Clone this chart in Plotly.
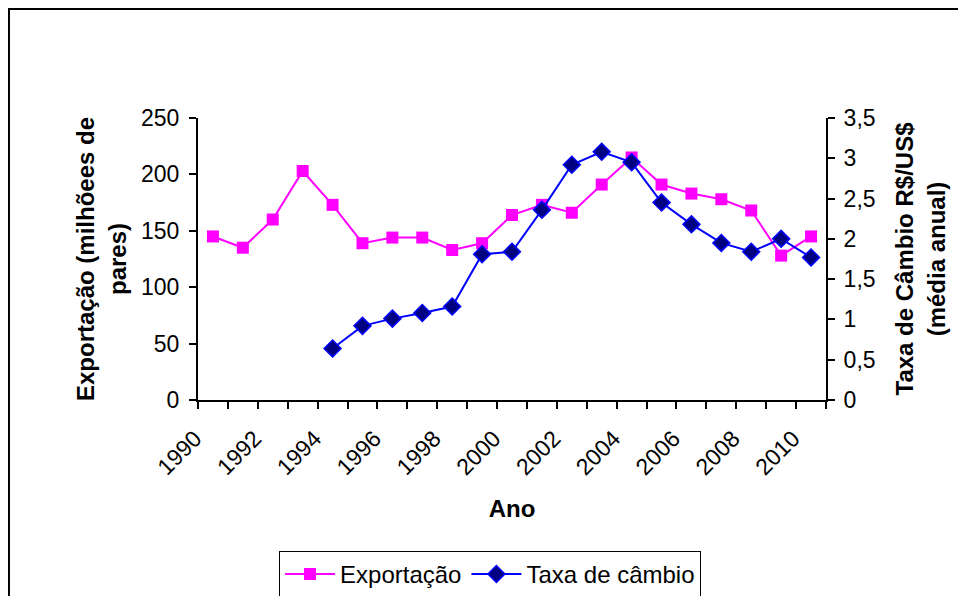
import plotly.graph_objects as go

years = [str(y) for y in range(1990, 2011)]
exportacao = [145, 135, 160, 203, 173, 139, 144, 144, 133, 139, 164, 173, 166, 191, 215, 191, 183, 178, 168, 128, 145]
cambio_years = [str(y) for y in range(1994, 2011)]
cambio = [0.64, 0.92, 1.01, 1.08, 1.16, 1.81, 1.84, 2.36, 2.92, 3.08, 2.95, 2.45, 2.18, 1.95, 1.84, 2.00, 1.77]
tick_text = [y if int(y) % 2 == 0 else "" for y in years]

FONT = "Liberation Sans, Arial, sans-serif"

fig = go.Figure()
fig.add_trace(go.Scatter(
    x=years, y=exportacao, name="Exportação", mode="lines+markers",
    line=dict(color="#FF00FF", width=2),
    marker=dict(symbol="square", size=12, color="#FF00FF"),
))
fig.add_trace(go.Scatter(
    x=cambio_years, y=cambio, name="Taxa de câmbio", mode="lines+markers",
    line=dict(color="#0000FF", width=2), yaxis="y2",
    marker=dict(symbol="diamond", size=13, color="#000080", line=dict(color="#0000FF", width=1.5)),
))

fig.update_layout(
    width=966, height=596,
    margin=dict(l=190, r=148, t=110, b=204, autoexpand=False),
    paper_bgcolor="white", plot_bgcolor="white",
    separators=", ",
    font=dict(family=FONT, size=23, color="black"),
    showlegend=True,
    legend=dict(orientation="h", x=0.465, xanchor="center", y=-0.535, yanchor="top",
                bordercolor="black", borderwidth=1, font=dict(size=24),
                itemwidth=50, tracegroupgap=0),
    xaxis=dict(type="category", categoryorder="array", categoryarray=years,
               range=[-0.5, len(years) - 0.5],
               tickvals=years, ticktext=tick_text, tickson="boundaries",
               ticks="outside", ticklen=7, tickwidth=2, tickcolor="black",
               showline=True, linecolor="black", linewidth=2, mirror=False,
               tickangle=-45, showgrid=False, zeroline=False, automargin=False,
               tickfont=dict(size=23), ticklabelstandoff=14, ticklabelshift=-18,
               title=dict(text="<b>Ano</b>", font=dict(size=24), standoff=21)),
    yaxis=dict(range=[0, 250], dtick=50, ticks="outside", ticklen=7, tickwidth=2, tickcolor="black",
               showline=True, linecolor="black", linewidth=2, showgrid=False, zeroline=False,
               automargin=False, tickfont=dict(size=23), ticklabelstandoff=5,
               title=dict(text="<b>Exportação (milhõees de<br>pares)</b>", font=dict(size=24), standoff=8)),
    yaxis2=dict(range=[0, 3.5], dtick=0.5, overlaying="y", side="right",
                ticks="outside", ticklen=7, tickwidth=2, tickcolor="black",
                showline=True, linecolor="black", linewidth=2, showgrid=False, zeroline=False,
                automargin=False, tickfont=dict(size=23), ticklabelstandoff=4,
                title=dict(text="<b>Taxa de Câmbio R$/US$<br>(média anual)</b>", font=dict(size=24), standoff=22)),
    shapes=[dict(type="rect", xref="paper", yref="paper", x0=-0.301, x1=1.25, y0=-0.75, y1=(400 - 9) / 282,
                 line=dict(color="black", width=2), fillcolor="rgba(0,0,0,0)", layer="below")],
)

fig.write_html("out.html")
